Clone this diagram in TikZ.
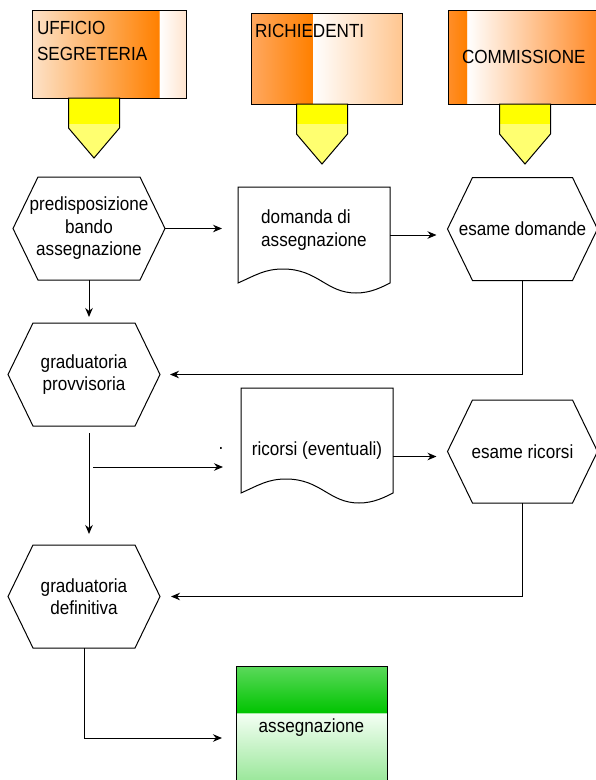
\documentclass[tikz,border=0pt]{standalone}
\usepackage{fontspec}
\setmainfont{Liberation Sans}[FakeStretch=0.9]
\usetikzlibrary{arrows.meta}

\definecolor{orgFull}{HTML}{FF8000}
\definecolor{uffLeft}{HTML}{FDE2C8}
\definecolor{uffRight}{HTML}{FFE4CE}
\definecolor{richLeft}{HTML}{FFA860}
\definecolor{richRight}{HTML}{FFC690}
\definecolor{commLeft}{HTML}{FF8E2A}
\definecolor{commRight}{HTML}{FF8620}
\definecolor{tagBright}{HTML}{FFFF00}
\definecolor{tagLight}{HTML}{FFFF70}
\definecolor{asgTop}{HTML}{5CD95C}
\definecolor{asgDeep}{HTML}{00C400}
\definecolor{asgPale}{HTML}{F4FFF4}
\definecolor{asgBot}{HTML}{96E696}

\pgfdeclarehorizontalshading{shUff}{100bp}{color(0bp)=(uffLeft); color(25bp)=(uffLeft); color(66.2bp)=(orgFull); color(66.3bp)=(white); color(75bp)=(uffRight); color(100bp)=(uffRight)}
\pgfdeclarehorizontalshading{shRich}{100bp}{color(0bp)=(richLeft); color(25bp)=(richLeft); color(45.2bp)=(orgFull); color(45.3bp)=(white); color(75bp)=(richRight); color(100bp)=(richRight)}
\pgfdeclarehorizontalshading{shComm}{100bp}{color(0bp)=(commLeft); color(25bp)=(commLeft); color(31.2bp)=(orgFull); color(31.3bp)=(white); color(75bp)=(commRight); color(100bp)=(commRight)}
\pgfdeclareverticalshading{shAsg}{100bp}{color(0bp)=(asgBot); color(25bp)=(asgBot); color(55bp)=(asgPale); color(55.1bp)=(asgDeep); color(75bp)=(asgTop); color(100bp)=(asgTop)}

\tikzset{pics/tagpent/.style={code={
  \fill[tagLight] (-25.5,0) -- (25.5,0) -- (25.5,30) -- (0,60) -- (-25.5,30) -- cycle;
  \fill[tagBright] (-25.5,0) rectangle (25.5,#1);
  \draw (-25.5,0) -- (25.5,0) -- (25.5,30) -- (0,60) -- (-25.5,30) -- cycle;
}}}

\newcommand{\hexoutline}[1]{\draw (#1.west) -- ([xshift=25pt]#1.north west) -- ([xshift=-25pt]#1.north east) -- (#1.east) -- ([xshift=-25pt]#1.south east) -- ([xshift=25pt]#1.south west) -- cycle;}
\newcommand{\docoutline}[1]{\draw (#1.south west) .. controls +(18,-8) and +(-18,0) .. ++(45,-14) .. controls +(35,0) and +(-30,0) .. ++(73,24) .. controls +(15,0) and +(-8,4) .. (#1.south east) -- (#1.north east) -- (#1.north west) -- cycle;}

\begin{document}
\begin{tikzpicture}[x=1pt, y=-1pt, line width=1pt, >={Stealth[length=9pt,width=7.5pt]},
  every node/.style={font=\fontsize{19}{22.5}\selectfont, inner sep=0pt, outer sep=0pt},
  headbox/.style={draw, line width=1pt},
  headtxt/.style={anchor=north west, align=left, font=\fontsize{19}{26}\selectfont},
  hexbox/.style={minimum width=152pt, minimum height=103pt, align=center},
  docbox/.style={minimum width=152pt}]
\path[use as bounding box] (0,0) rectangle (596,780);
\clip (0,0) rectangle (596,780);
\fill[white] (0,0) rectangle (596,780);

% roles
\node [headbox, shading=shUff, minimum width=154pt, minimum height=88pt] (uff) at (109,54) {};
\node [headtxt] (uffTxt) at (37,21) {UFFICIO\\SEGRETERIA};
\node [headbox, shading=shRich, minimum width=151pt, minimum height=91pt] (rich) at (326.5,58.5) {};
\node [headtxt] (richTxt) at (255,24) {RICHIEDENTI};
\node [headbox, shading=shComm, minimum width=152pt, minimum height=94pt] (comm) at (524,57) {};
\node [headtxt] (commTxt) at (462,50) {COMMISSIONE};

\pic at (94,98) {tagpent=26};
\pic at (322,104) {tagpent=20};
\pic at (525,104) {tagpent=20};

% steps
\node [hexbox] (pred) at (89,228.5) {predisposizione\\bando\\assegnazione};
\hexoutline{pred}
\node [docbox, minimum height=96pt, align=left, text depth=14pt] (dom) at (314,235) {domanda di\\assegnazione};
\docoutline{dom}
\node [hexbox, minimum width=150pt] (esdom) at (522.5,229) {esame domande};
\hexoutline{esdom}

\node [hexbox] (prov) at (84,374.5) {graduatoria\\provvisoria};
\hexoutline{prov}
\node [docbox, minimum height=105pt, text height=29pt, text depth=0pt] (ric) at (317,440.5) {ricorsi (eventuali)};
\docoutline{ric}
\node (dot) at (221,448) {.};
\node [hexbox, minimum width=150pt] (esric) at (522.5,451.5) {esame ricorsi};
\hexoutline{esric}

\node [hexbox] (defi) at (84,596.5) {graduatoria\\definitiva};
\hexoutline{defi}
\node [draw, shading=shAsg, minimum width=151pt, minimum height=118pt, text height=14pt, text depth=0pt] (asg) at (311.5,725) {assegnazione};

% flow
\draw [->, shorten >=16pt] (pred.east) -- (pred.east -| dom.west);
\draw [->, shorten >=11pt] (dom.east) -- (dom.east -| esdom.west);
\draw [->, shorten >=6pt] (pred.south) -- (pred.south |- prov.north);
\draw [->, shorten >=10pt] (esdom.south) |- (prov.east);

\draw [->, shorten <=7pt, shorten >=11pt] ([xshift=5pt]prov.south) -- ([xshift=5pt]prov.south |- defi.north);
\coordinate (split) at (93,467);
\draw [->, shorten >=18pt] (split) -- (split -| ric.west);
\draw [->, shorten >=11pt] ([yshift=-16pt]ric.east) -- ([yshift=-16pt]ric.east -| esric.west);
\draw [->, shorten >=11pt] (esric.south) |- (defi.east);

\draw [->, shorten >=14pt] (defi.south) |- ([yshift=-13pt]asg.west);
\end{tikzpicture}
\end{document}
